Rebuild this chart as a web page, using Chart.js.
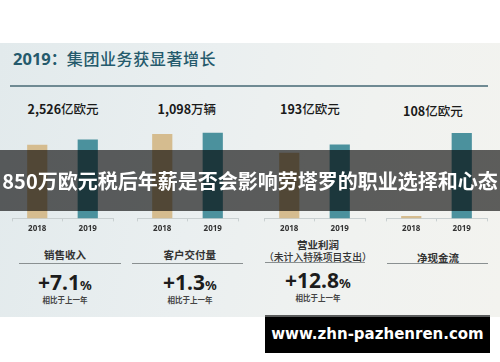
<!DOCTYPE html>
<html><head><meta charset="utf-8">
<script src="https://cdn.jsdelivr.net/npm/chart.js@4"></script>
<style>
html,body{margin:0;padding:0;background:#fff;}
#stage{position:relative;width:500px;height:362px;overflow:hidden;background:#fff;font-family:"Noto Sans CJK SC","Noto Sans",sans-serif;}
#slide{position:absolute;left:0;top:43px;width:500px;height:274px;
 background:linear-gradient(100deg,#e2eaec 0%,#eaeff0 40%,#f0f2f0 70%,#f3f3ef 100%);}
.t{position:absolute;white-space:nowrap;line-height:1;}
.cv{position:absolute;}
.rule{position:absolute;height:1px;background:#8f9697;}
#banner{position:absolute;left:0;top:150px;width:500px;height:61px;background:rgba(0,0,0,0.62);
 color:#fff;font-weight:700;font-size:20px;line-height:61px;text-align:center;white-space:nowrap;z-index:5;}
#wm{position:absolute;left:265px;top:315px;width:225px;height:38px;background:#000;border-top:2px solid #5a5c5c;box-sizing:border-box;
 color:#fff;font-family:"DejaVu Sans",sans-serif;font-weight:700;font-size:15px;line-height:35px;text-align:center;z-index:6;}
</style></head>
<body><div id="stage"><div id="slide"></div></div>
<script>
// ---- data ----
const categories = ['2018', '2019'];
const metrics = ['销售收入', '客户交付量', '营业利润', '净现金流'];
const metricNotes = ['', '', '（未计入特殊项目支出）', ''];
const values2018 = [2359, 1084, 171, 3];
const values2019 = [2526, 1098, 193, 108];
const units = ['亿欧元', '万辆', '亿欧元', '亿欧元'];
const growthPct = ['+7.1', '+1.3', '+12.8', ''];
const growthNote = '相比于上一年';
const axisMax = [3120, 1250, 254, 123];
const titleYear = '2019：';
const titleText = '集团业务获显著增长';
const bannerText = '850万欧元税后年薪是否会影响劳塔罗的职业选择和心态';
const watermark = 'www.zhn-pazhenren.com';

// ---- layout ----
const stage = document.getElementById('stage');
function addText(txt, x, y, css, center){
  const d = document.createElement('div');
  d.className = 't';
  d.innerHTML = txt;
  d.style.cssText += css;
  stage.appendChild(d);
  const w = d.offsetWidth, h = d.offsetHeight;
  d.style.left = (center ? x - w/2 : x) + 'px';
  d.style.top = (y - h/2) + 'px';
  return d;
}
function addRule(x1, x2, y, color, hgt){
  const r = document.createElement('div');
  r.className = 'rule';
  r.style.left = x1 + 'px'; r.style.width = (x2 - x1) + 'px'; r.style.top = y + 'px';
  if (color) r.style.background = color;
  if (hgt) r.style.height = hgt + 'px';
  stage.appendChild(r);
}

addText('<b style="font-family:\'Noto Sans\',sans-serif;font-weight:700;font-size:16.5px">' + titleYear.slice(0,4) + '</b><span style="font-weight:700">' + titleYear.slice(4) + '</span><span style="letter-spacing:0.6px">' + titleText + '</span>',
  13, 59, 'font-size:16px;color:#255a6c;font-weight:500;', false);
addRule(10, 488, 85, '#6f8a93', 1.5);

const axisLeft = [12, 137, 264, 386];
const labelCx = [63, 187, 310, 433];
const labelCy = [109, 109, 109, 111];
const lowCx = [65, 190, 318, 438];

for (let i = 0; i < 4; i++) {
  addText('<b>' + values2019[i].toLocaleString('en-US') + '</b>' + units[i], labelCx[i], labelCy[i],
    'font-size:12.5px;color:#1a1a1a;font-weight:500;', true);

  const c = document.createElement('canvas');
  c.className = 'cv';
  const cw = 105, ch = 116;
  c.width = cw; c.height = ch;
  c.style.left = (axisLeft[i] - 2) + 'px';
  c.style.top = '121px';
  c.style.width = cw + 'px'; c.style.height = ch + 'px';
  stage.appendChild(c);
  new Chart(c, {
    type: 'bar',
    data: {
      labels: categories,
      datasets: [{
        data: [values2018[i], values2019[i]],
        backgroundColor: ['#d5bc8f', '#4b919d'],
        borderWidth: 0,
        categoryPercentage: 1.0,
        barPercentage: 0.4
      }]
    },
    options: {
      responsive: false, animation: false, devicePixelRatio: 1,
      layout: { padding: { left: 2, right: 2, top: 0, bottom: 0 } },
      plugins: { legend: { display: false }, tooltip: { enabled: false } },
      scales: {
        x: {
          grid: { display: true, drawOnChartArea: false, drawTicks: true, tickLength: 3, color: '#c9d0d1', offset: true },
          border: { display: true, color: '#c9d0d1', width: 1 },
          ticks: { color: '#333', padding: 3, font: { family: 'Noto Sans', size: 8, weight: 'bold' } }
        },
        y: { display: false, min: 0, max: axisMax[i] }
      }
    }
  });

  const lowY = i === 2 ? 245 : 255.5;
  addText(metrics[i], lowCx[i], i === 3 ? 258 : lowY, 'font-size:10.5px;color:#333;font-weight:700;', true);
  if (metricNotes[i]) addText(metricNotes[i], lowCx[i], 258, 'font-size:9.8px;color:#333;font-weight:500;', true);
}
addRule(19, 121, 263, '#8a9091');
addRule(132, 243, 263, '#8a9091');
addRule(265, 365, 262, '#8a9091');
addRule(387, 488, 263, '#8a9091');

const pctY = [282, 282, 280];
const noteY = [300, 300, 298];
for (let i = 0; i < 3; i++) {
  addText('<span style="font-size:21px">' + growthPct[i] + '</span><span style="font-size:13px">%</span>',
    lowCx[i], pctY[i], 'font-family:\'Noto Sans\',sans-serif;font-weight:700;color:#1c1c1c;', true);
  addText(growthNote, lowCx[i], noteY[i], 'font-size:7.5px;color:#444;font-weight:700;', true);
}

const b = document.createElement('div'); b.id = 'banner'; b.textContent = bannerText; stage.appendChild(b);
const w = document.createElement('div'); w.id = 'wm'; w.textContent = watermark; stage.appendChild(w);
</script>
</body></html>
